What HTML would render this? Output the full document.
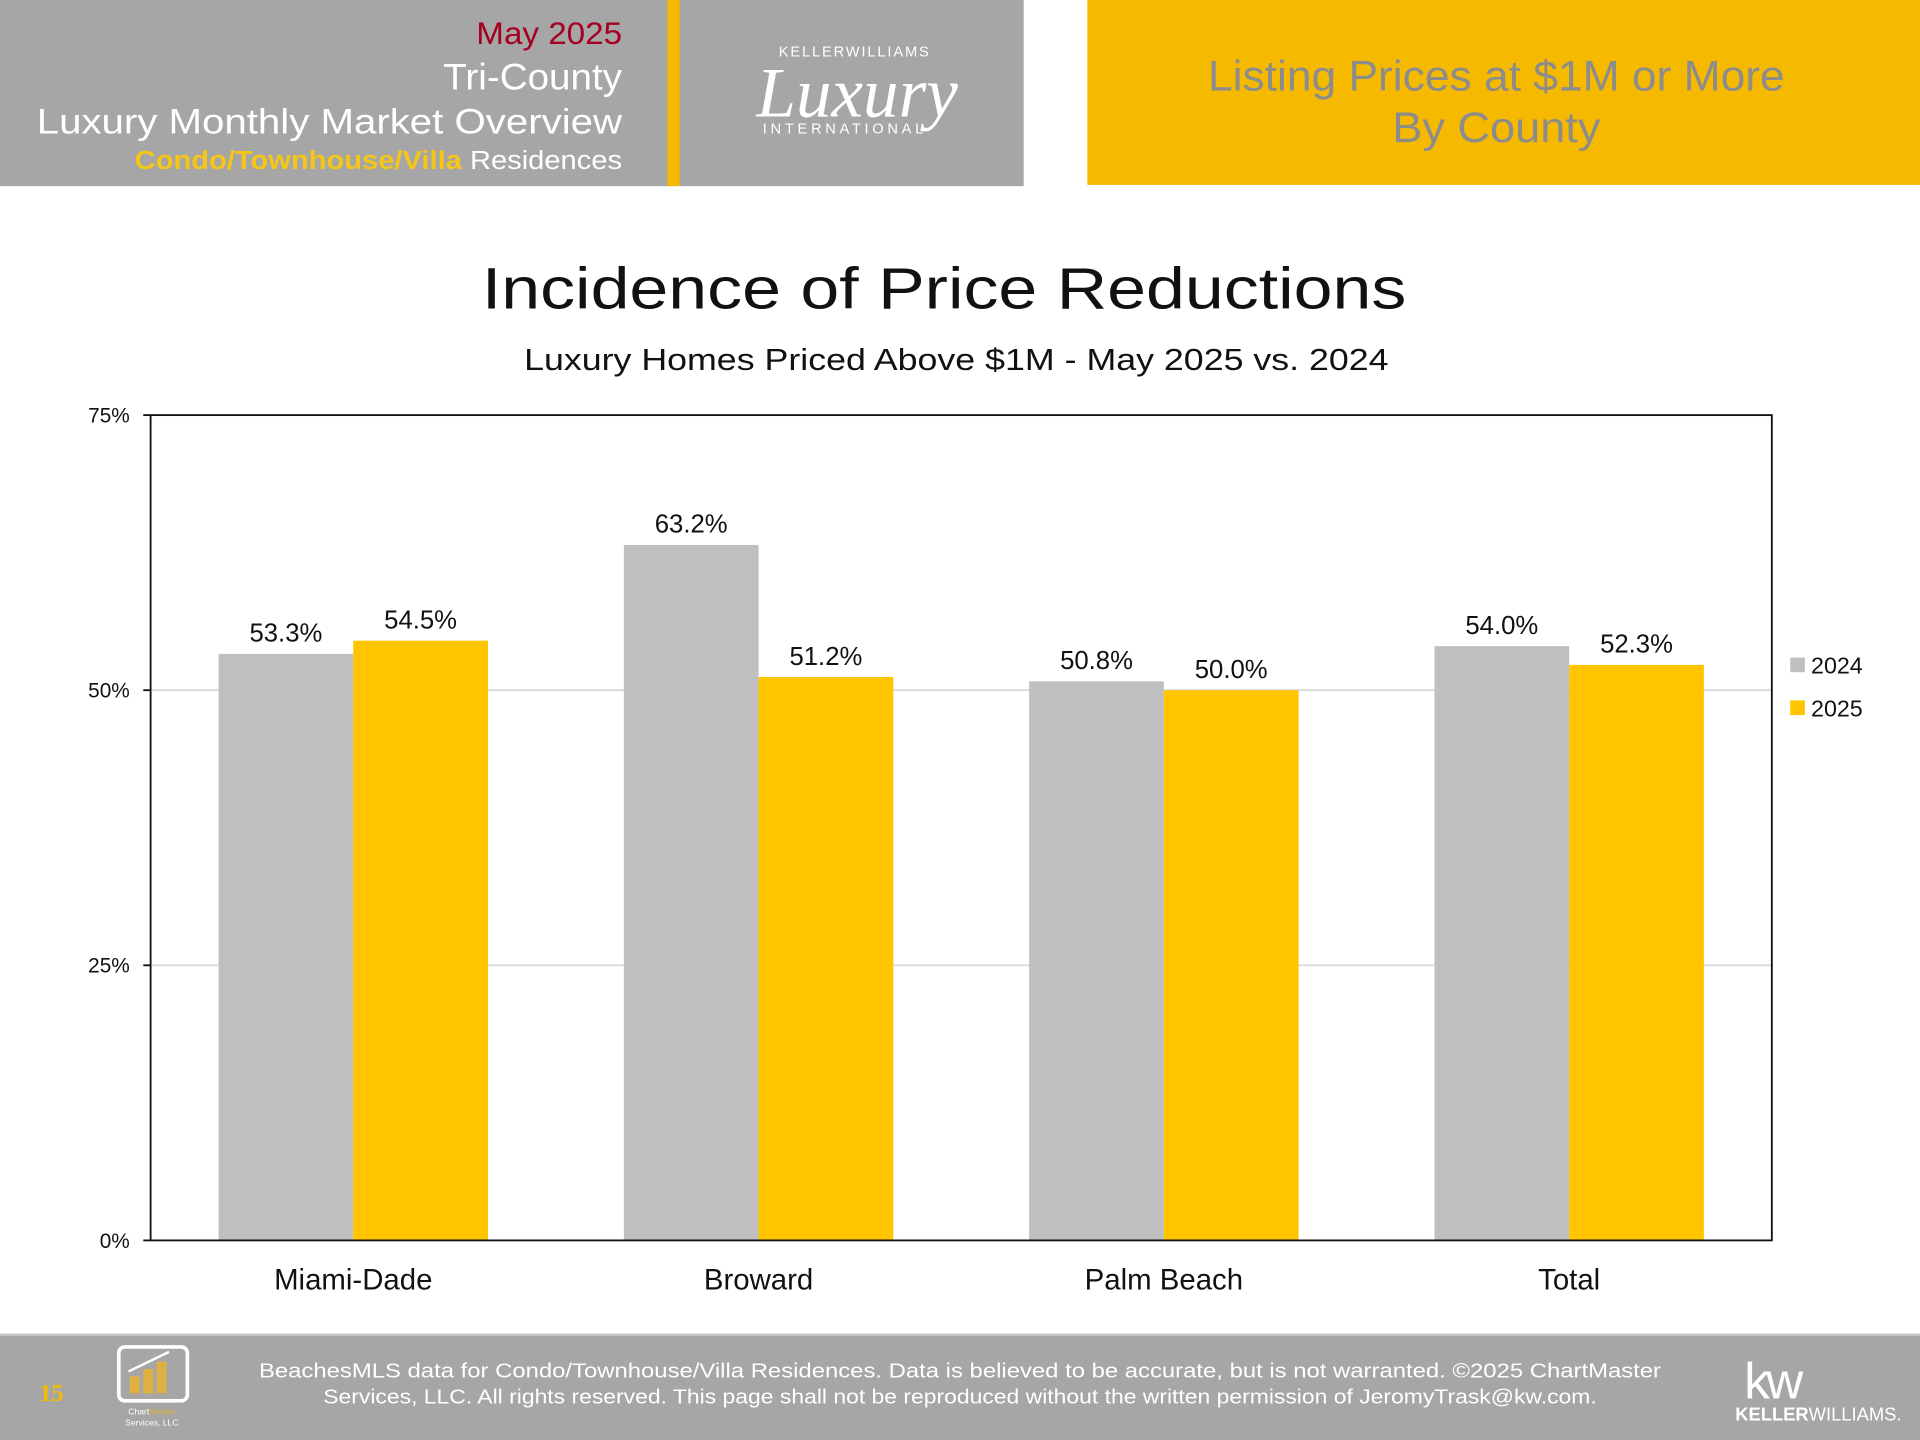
<!DOCTYPE html>
<html><head><meta charset="utf-8"><style>
html,body{margin:0;padding:0;background:#fff;width:1920px;height:1440px;overflow:hidden}
svg{display:block;font-family:"Liberation Sans",sans-serif}
</style></head><body>
<svg id="page" width="1920" height="1440" viewBox="0 0 1568 1176" xmlns="http://www.w3.org/2000/svg">
<g>
  <rect x="0" y="0" width="836" height="152" fill="#A6A6A6"/>
  <rect x="545" y="0" width="10" height="152" fill="#F5BA00"/>
  <text x="508" y="36" font-size="26" fill="#A50021" text-anchor="end" textLength="119" lengthAdjust="spacingAndGlyphs">May 2025</text>
  <text x="508" y="73" font-size="30" fill="#fff" text-anchor="end" textLength="146" lengthAdjust="spacingAndGlyphs">Tri-County</text>
  <text x="508" y="109" font-size="29" fill="#fff" text-anchor="end" textLength="478" lengthAdjust="spacingAndGlyphs">Luxury Monthly Market Overview</text>
  <text x="508" y="138" font-size="21" fill="#fff" text-anchor="end" textLength="398" lengthAdjust="spacingAndGlyphs"><tspan fill="#F5C518" font-weight="bold">Condo/Townhouse/Villa</tspan> Residences</text>
  <g fill="#fff">
    <text x="698" y="46" font-size="12" text-anchor="middle" letter-spacing="1.5">KELLERWILLIAMS</text>
    <text x="700" y="95" font-size="58" text-anchor="middle" font-style="italic" font-family="'Liberation Serif',serif">Luxury</text>
    <text x="690" y="109" font-size="12" text-anchor="middle" letter-spacing="3">INTERNATIONAL</text>
  </g>
  <rect x="888" y="0" width="680" height="151" fill="#F5BA00"/>
  <text x="1222" y="74" font-size="35" fill="#8C8C8C" text-anchor="middle" textLength="471" lengthAdjust="spacingAndGlyphs">Listing Prices at $1M or More</text>
  <text x="1222" y="116" font-size="35" fill="#8C8C8C" text-anchor="middle" textLength="170" lengthAdjust="spacingAndGlyphs">By County</text>
</g>
<text x="771" y="252" font-size="48" fill="#111" text-anchor="middle" textLength="755" lengthAdjust="spacingAndGlyphs">Incidence of Price Reductions</text>
<text x="781" y="302" font-size="25" fill="#111" text-anchor="middle" textLength="706" lengthAdjust="spacingAndGlyphs">Luxury Homes Priced Above $1M - May 2025 vs. 2024</text>
<g id="chart"></g>
<g>
  <g><rect x="1462" y="537" width="12" height="12" fill="#BFBFBF"/><text x="1479" y="550" font-size="19" fill="#111">2024</text></g>
  <g><rect x="1462" y="572" width="12" height="12" fill="#FFC600"/><text x="1479" y="585" font-size="19" fill="#111">2025</text></g>
</g>
<g>
  <rect x="0" y="1089" width="1568" height="87" fill="#A6A6A6"/>
  <rect x="0" y="1089" width="1568" height="2" fill="#C8C8C8"/>
  <text x="42" y="1144" font-size="20" font-weight="bold" fill="#F5BA00" text-anchor="middle" font-family="'Liberation Serif',serif">15</text>
  <g>
    <rect x="97" y="1100" width="56" height="44" rx="5" fill="none" stroke="#fff" stroke-width="3"/>
    <rect x="106" y="1124" width="8" height="14" fill="#E0B040"/><rect x="117" y="1118" width="8" height="20" fill="#E0B040"/><rect x="128" y="1112" width="8" height="26" fill="#E0B040"/>
    <line x1="105" y1="1120" x2="138" y2="1104" stroke="#fff" stroke-width="2"/>
    <text x="124" y="1155" font-size="7" fill="#fff" text-anchor="middle">Chart<tspan fill="#E0B040">Master</tspan></text>
    <text x="124" y="1164" font-size="7" fill="#fff" text-anchor="middle">Services, LLC</text>
  </g>
  <text x="784" y="1125" font-size="16.5" fill="#fff" text-anchor="middle" textLength="1145" lengthAdjust="spacingAndGlyphs">BeachesMLS data for Condo/Townhouse/Villa Residences.  Data is believed to be accurate, but is not warranted.  ©2025  ChartMaster</text>
  <text x="784" y="1146" font-size="16.5" fill="#fff" text-anchor="middle" textLength="1040" lengthAdjust="spacingAndGlyphs">Services, LLC.  All rights reserved. This page shall not be reproduced without the written permission of JeromyTrask@kw.com.</text>
  <g fill="#fff">
    <text x="1447" y="1142" font-size="42" text-anchor="middle" letter-spacing="-3">kw</text>
    <text x="1485" y="1160" font-size="15" text-anchor="middle"><tspan font-weight="bold">KELLER</tspan>WILLIAMS.</text>
  </g>
</g>
</svg>
<script>
const categories = ["Miami-Dade", "Broward", "Palm Beach", "Total"];
const values2024 = [53.3, 63.2, 50.8, 54.0];
const values2025 = [54.5, 51.2, 50.0, 52.3];
const yTicks = [0, 25, 50, 75];
const tickLabels = ["0%", "25%", "50%", "75%"];

const NS = "http://www.w3.org/2000/svg";
const chart = document.getElementById("chart");
const plot = {left: 123, right: 1447, top: 339, bottom: 1013};
const yMax = 75;
function yScale(v){ return plot.bottom - (v / yMax) * (plot.bottom - plot.top); }
const groupW = (plot.right - plot.left) / categories.length;
function xCenter(i){ return plot.left + groupW * (i + 0.5); }
const barW = 110;
function mk(tag, attrs){ const e = document.createElementNS(NS, tag); for (const k in attrs) e.setAttribute(k, attrs[k]); chart.appendChild(e); return e; }

yTicks.forEach((t, i) => {
  const y = yScale(t);
  if (t > 0 && t < yMax) {
    const g = mk("line", {x1: plot.left, x2: plot.right, y1: y, y2: y, stroke: "#D9D9D9", "stroke-width": 1.5});
    
    
  }
  const tk = mk("line", {x1: plot.left - 6, x2: plot.left, y1: y, y2: y, stroke: "#111", "stroke-width": 1.5});
  
  
  const lb = mk("text", {x: 106, y: y + 6, "font-size": 17, fill: "#111", "text-anchor": "end"});
  lb.textContent = tickLabels[i];
  
  
});

categories.forEach((c, i) => {
  const cx = xCenter(i);
  [[values2024[i], "#BFBFBF", -1, "2024"], [values2025[i], "#FFC600", 0, "2025"]].forEach(([v, col, off, yr]) => {
    const x = cx + off * barW;
    const y = yScale(v);
    const r = mk("rect", {x: x, y: y, width: barW, height: plot.bottom - y, fill: col});
    
    
    const t = mk("text", {x: x + barW / 2, y: y - 10, "font-size": 21, fill: "#111", "text-anchor": "middle"});
    t.textContent = v.toFixed(1) + "%";
    
    
  });
  const xl = mk("text", {x: cx, y: 1053, "font-size": 24, fill: "#111", "text-anchor": "middle"});
  xl.textContent = c;
  
  
});

const frame = mk("rect", {x: plot.left, y: plot.top, width: plot.right - plot.left, height: plot.bottom - plot.top, fill: "none", stroke: "#111", "stroke-width": 1.5});


</script>
</body></html>
